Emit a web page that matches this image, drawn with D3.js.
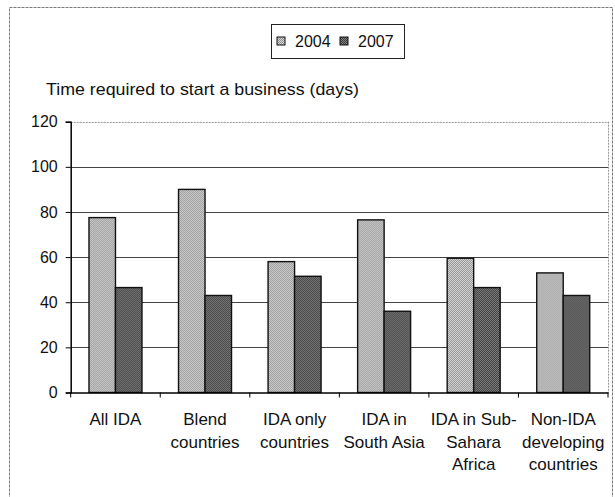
<!DOCTYPE html>
<html>
<head>
<meta charset="utf-8">
<script src="https://cdn.jsdelivr.net/npm/d3@7"></script>
<style>
  html, body { margin: 0; padding: 0; background: #fff; }
  svg { display: block; font-family: "Liberation Sans", Arial, sans-serif; }
</style>
</head>
<body>
<svg id="chart" width="615" height="497"></svg>
<script>
// ---- data ----
const categories = ["All IDA", "Blend countries", "IDA only countries", "IDA in South Asia", "IDA in Sub-Sahara Africa", "Non-IDA developing countries"];
const categoryLines = [["All IDA"], ["Blend", "countries"], ["IDA only", "countries"], ["IDA in", "South Asia"], ["IDA in Sub-", "Sahara", "Africa"], ["Non-IDA", "developing", "countries"]];
const seriesNames = ["2004", "2007"];
const values2004 = [77.5, 90, 58, 76.5, 59.5, 53];
const values2007 = [46.5, 43, 51.5, 36, 46.5, 43];
const yTicks = [0, 20, 40, 60, 80, 100, 120];
const chartTitle = "Time required to start a business (days)";

// ---- layout ----
const svg = d3.select("#chart");
const plot = { left: 70.7, right: 608, top: 121.7, bottom: 392.5 };

// patterns (scanned stipple look)
const defs = svg.append("defs");
function stipple(id, light, dark) {
  const p = defs.append("pattern").attr("id", id).attr("patternUnits", "userSpaceOnUse")
    .attr("width", 2).attr("height", 2);
  p.append("rect").attr("width", 2).attr("height", 2).attr("fill", light);
  p.append("rect").attr("width", 1).attr("height", 1).attr("fill", dark);
  p.append("rect").attr("x", 1).attr("y", 1).attr("width", 1).attr("height", 1).attr("fill", dark);
}
stipple("p2004", "#d6d6d6", "#949494");
stipple("p2007", "#808080", "#3e3e3e");
const fills = { "2004": "url(#p2004)", "2007": "url(#p2007)" };

// outer chart border
svg.append("rect").attr("x", 9.5).attr("y", 7.5).attr("width", 603).attr("height", 495)
  .attr("fill", "none").attr("stroke", "#777").attr("stroke-width", 1).attr("stroke-dasharray", "3,1");

// scales
const x0 = d3.scaleBand().domain(categories).range([plot.left, plot.right]).padding(0);
const x1 = d3.scaleBand().domain(seriesNames).range([0, x0.bandwidth()]).paddingInner(0).paddingOuter(0.69);
const y = d3.scaleLinear().domain([0, 120]).range([plot.bottom, plot.top]);

// gridlines
svg.append("g").selectAll("line").data(yTicks.filter(t => t > 0)).join("line")
  .attr("x1", plot.left).attr("x2", plot.right)
  .attr("y1", d => Math.round(y(d)) + 0.5).attr("y2", d => Math.round(y(d)) + 0.5)
  .attr("stroke", d => d === 120 ? "#999" : "#444")
  .attr("stroke-width", 1)
  .attr("stroke-dasharray", d => d === 120 ? "2,1" : null);

// plot right border (dotted)
svg.append("line").attr("x1", plot.right + 0.5).attr("x2", plot.right + 0.5)
  .attr("y1", plot.top).attr("y2", plot.bottom)
  .attr("stroke", "#999").attr("stroke-dasharray", "2,1");

// bars
const rows = categories.map((c, i) => ({ cat: c, vals: [{ s: "2004", v: values2004[i] }, { s: "2007", v: values2007[i] }] }));
const gCat = svg.append("g").selectAll("g").data(rows).join("g")
  .attr("transform", d => `translate(${x0(d.cat)},0)`);
gCat.selectAll("rect").data(d => d.vals).join("rect")
  .attr("x", d => x1(d.s))
  .attr("y", d => y(d.v))
  .attr("width", x1.bandwidth())
  .attr("height", d => plot.bottom - y(d.v))
  .attr("fill", d => fills[d.s])
  .attr("stroke", "#111")
  .attr("stroke-width", 1.4);

// y axis
const yAxis = svg.append("g").attr("transform", `translate(${plot.left},0)`)
  .call(d3.axisLeft(y).tickValues(yTicks).tickSize(5).tickPadding(8).tickFormat(d3.format("d")));
yAxis.select(".domain").attr("stroke", "#000").attr("stroke-width", 1.5);
yAxis.selectAll(".tick line").attr("stroke", "#000");
yAxis.selectAll(".tick text").attr("font-size", 16).attr("fill", "#111")
  .attr("font-family", "'Liberation Sans', Arial, sans-serif");

// x axis
const xAxis = svg.append("g").attr("transform", `translate(0,${plot.bottom})`)
  .call(d3.axisBottom(x0).tickSize(0).tickFormat(""));
xAxis.select(".domain").attr("stroke", "#000").attr("stroke-width", 1.5);
// boundary ticks between categories
const bounds = categories.map(c => x0(c)).concat([plot.right]);
svg.append("g").selectAll("line").data(bounds).join("line")
  .attr("x1", d => d).attr("x2", d => d)
  .attr("y1", plot.bottom).attr("y2", plot.bottom + 5)
  .attr("stroke", "#000").attr("stroke-width", 1);

// category labels
const labG = svg.append("g").selectAll("text").data(categories).join("text")
  .attr("x", d => x0(d) + x0.bandwidth() / 2)
  .attr("y", 425)
  .attr("text-anchor", "middle")
  .attr("font-size", 17)
  .attr("fill", "#111");
labG.each(function(d, i) {
  const t = d3.select(this);
  categoryLines[i].forEach((ln, k) => {
    t.append("tspan").attr("x", x0(d) + x0.bandwidth() / 2).attr("dy", k === 0 ? 0 : 22.5).text(ln);
  });
});

// title
svg.append("text").attr("x", 46).attr("y", 95).attr("font-size", 17).attr("fill", "#111")
  .attr("textLength", 313).attr("lengthAdjust", "spacingAndGlyphs").text(chartTitle);

// legend
const lg = svg.append("g");
lg.append("rect").attr("x", 271.5).attr("y", 24.5).attr("width", 133).attr("height", 34)
  .attr("fill", "#fff").attr("stroke", "#222").attr("stroke-width", 1);
const legX = [277, 340];
seriesNames.forEach((s, i) => {
  lg.append("rect").attr("x", legX[i]).attr("y", 37).attr("width", 8).attr("height", 8)
    .attr("fill", fills[s]).attr("stroke", "#111").attr("stroke-width", 1);
  lg.append("text").attr("x", legX[i] + 18).attr("y", 47).attr("font-size", 16).attr("fill", "#111").text(s);
});
</script>
</body>
</html>
